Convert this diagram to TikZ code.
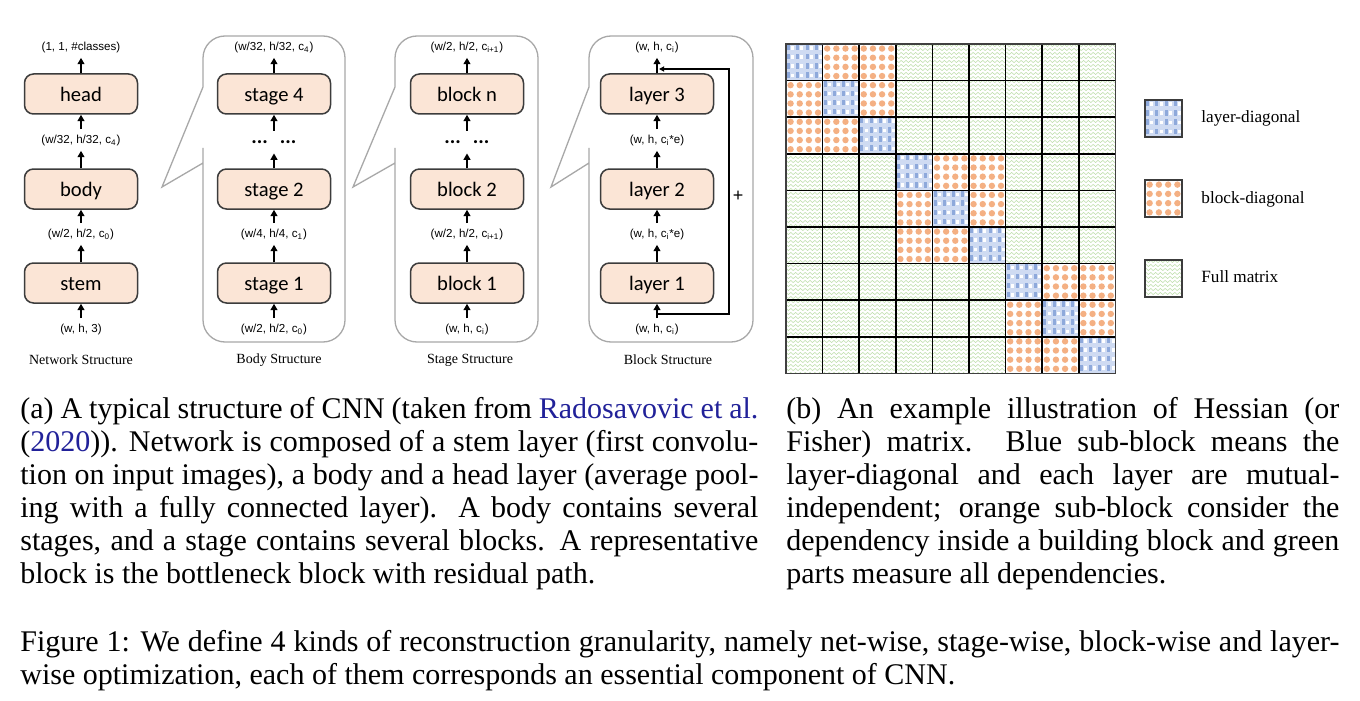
\documentclass[tikz,border=0pt]{standalone}
\usepackage{fontspec}
\setmainfont{Liberation Serif}
\newfontfamily\arialf{Liberation Sans}
\newfontfamily\calibf{Carlito}
\usetikzlibrary{arrows.meta,decorations.pathmorphing}
\definecolor{boxfill}{HTML}{FBE5D6}
\definecolor{boxdraw}{HTML}{3C3C3C}
\definecolor{panelc}{HTML}{A8A8A8}
\definecolor{citec}{rgb}{0.13,0.13,0.6}
\definecolor{zigc}{HTML}{BFDFAD}
\definecolor{odot}{HTML}{F4B083}
\definecolor{bluebg}{HTML}{CFDBF2}
\definecolor{bluedk}{HTML}{8EA9DB}
\newcommand\mybluecell[3]{%
  \fill[bluebg] (#1,#2) rectangle ++(#3,#3);
  \foreach \ii in {0,...,3}{\foreach \jj in {0,...,3}{
    \fill[bluedk] (#1+\ii*#3/4+1.2,#2+\jj*#3/4+0.8) rectangle ++(3,5.5);
    \fill[white] (#1+\ii*#3/4+5.3,#2+\jj*#3/4+2.2) rectangle ++(3,3.5);
  }}}
\newcommand\myorangecells[4]{% x y size count-per-side
  \fill[white] (#1,#2) rectangle ++(#3,#3);
  \foreach \ii in {1,...,#4}{\foreach \jj in {1,...,#4}{
    \fill[odot] (#1+\ii*#3/#4-0.5*#3/#4,#2+\jj*#3/#4-0.5*#3/#4) circle[radius=1.6pt];
  }}}
\begin{document}
\begin{tikzpicture}[x=0.5pt,y=-0.5pt,
  blk/.style={draw=boxdraw, fill=boxfill, line width=0.75pt, rounded corners=4.5pt,
    minimum width=56.5pt, minimum height=20pt, inner sep=0pt, text height=8pt, text depth=0.3pt,
    font=\calibf\fontsize{10.3}{12}\selectfont},
  dim/.style={font=\arialf\fontsize{5.8}{7}\selectfont, inner sep=1pt},
  dots/.style={font=\calibf\bfseries\fontsize{10.3}{12}\selectfont, inner sep=0pt, minimum height=8pt},
  upin/.style={-{Triangle[width=3.4pt,length=3.2pt]}, line width=1.2pt, shorten <=1.5pt},
  upout/.style={-{Triangle[width=3.4pt,length=3.2pt]}, line width=1.2pt, shorten >=1.5pt},
  panel/.style={draw=panelc, line width=0.65pt},
  sub/.style={font=\fontsize{7}{8}\selectfont, inner sep=0pt},
  leg/.style={font=\fontsize{8.6}{10}\selectfont, inner sep=0pt, anchor=west},
  gridl/.style={line width=0.75pt, black},
  zz/.style={draw=zigc, line width=0.28pt, decorate, decoration={zigzag, segment length=2.4pt, amplitude=0.55pt}},
  capt/.style={anchor=base west, inner sep=0pt}
]
\useasboundingbox[fill=white] (0,0) rectangle (1360,701);

% ---------- panels (callouts) ----------
\draw[panel] (203,163) -- (162,187) -- (203,87) -- (203,80) [rounded corners=11pt] -- (203,36) -- (345,36) -- (345,342) -- (203,342) -- (203,170) [sharp corners] -- cycle;
\draw[panel] (395,163) -- (353,187) -- (395,87) -- (395,80) [rounded corners=11pt] -- (395,36) -- (538,36) -- (538,342) -- (395,342) -- (395,170) [sharp corners] -- cycle;
\draw[panel] (589,163) -- (551,187) -- (589,87) -- (589,80) [rounded corners=11pt] -- (589,36) -- (753,36) -- (753,342) -- (589,342) -- (589,170) [sharp corners] -- cycle;

% ---------- network structure ----------
\node[blk] (head) at (81,94) {head};
\node[blk] (body) at (81,189) {body};
\node[blk] (stem) at (81,283) {stem};
\node[dim] (n0) at (81,329) {(w, h, 3)};
\node[dim] (n1) at (81,234) {(w/2, h/2, c\textsubscript{0})};
\node[dim] (n2) at (81,140) {(w/32, h/32, c\textsubscript{4})};
\node[dim] (n3) at (81,47) {(1, 1, \#classes)};
\draw[upin] (n0) -- (stem);
\draw[upout] (stem) -- (n1);
\draw[upin] (n1) -- (body);
\draw[upout] (body) -- (n2);
\draw[upin] (n2) -- (head);
\draw[upout] (head) -- (n3);

% ---------- body structure ----------
\node[blk] (s4) at (274,94) {stage 4};
\node[blk] (s2) at (274,189) {stage 2};
\node[blk] (s1) at (274,283) {stage 1};
\node[dim] (b0) at (274,329) {(w/2, h/2, c\textsubscript{0})};
\node[dim] (b1) at (274,234) {(w/4, h/4, c\textsubscript{1})};
\node[dots] (bd) at (274,142) {...\hspace{6pt}...};
\node[dim] (b3) at (274,47) {(w/32, h/32, c\textsubscript{4})};
\draw[upin] (b0) -- (s1);
\draw[upout] (s1) -- (b1);
\draw[upin] (b1) -- (s2);
\draw[upout] (s2) -- (bd);
\draw[upin] (bd) -- (s4);
\draw[upout] (s4) -- (b3);

% ---------- stage structure ----------
\node[blk] (kn) at (467,94) {block n};
\node[blk] (k2) at (467,189) {block 2};
\node[blk] (k1) at (467,283) {block 1};
\node[dim] (t0) at (467,329) {(w, h, c\textsubscript{i})};
\node[dim] (t1) at (467,234) {(w/2, h/2, c\textsubscript{i+1})};
\node[dots] (td) at (467,142) {...\hspace{6pt}...};
\node[dim] (t3) at (467,47) {(w/2, h/2, c\textsubscript{i+1})};
\draw[upin] (t0) -- (k1);
\draw[upout] (k1) -- (t1);
\draw[upin] (t1) -- (k2);
\draw[upout] (k2) -- (td);
\draw[upin] (td) -- (kn);
\draw[upout] (kn) -- (t3);

% ---------- block structure ----------
\node[blk] (l3) at (657,94) {layer 3};
\node[blk] (l2) at (657,189) {layer 2};
\node[blk] (l1) at (657,283) {layer 1};
\node[dim] (r0) at (657,329) {(w, h, c\textsubscript{i})};
\node[dim] (r1) at (657,234) {(w, h, c\textsubscript{i}*e)};
\node[dim] (r2) at (657,140) {(w, h, c\textsubscript{i}*e)};
\node[dim] (r3) at (657,47) {(w, h, c\textsubscript{i})};
\draw[upin] (r0) -- (l1);
\draw[upout] (l1) -- (r1);
\draw[upin] (r1) -- (l2);
\draw[upout] (l2) -- (r2);
\draw[upin] (r2) -- (l3);
\draw[upout] (l3) -- (r3);
\coordinate (rs) at (657,314);
\coordinate (rc1) at (729,314);
\coordinate (rc2) at (729,69);
\coordinate (re) at (659,69);
\draw[line width=0.6pt, -{Triangle[width=2.6pt,length=2.6pt]}] (rs) -- (rc1) -- (rc2) -- (re);
\node[font=\arialf\fontsize{9}{10}\selectfont, inner sep=0pt] (plus) at (738,196) {+};

% ---------- sub labels ----------
\node[sub] (ln) at (81,360) {Network Structure};
\node[sub] (lb) at (279,360) {Body Structure};
\node[sub] (ls) at (470,360) {Stage Structure};
\node[sub] (lk) at (668,360) {Block Structure};

% ---------- matrix ----------
\begin{scope}
  \clip (786,44) rectangle (1115.4,373.4);
  \foreach \k in {0,...,82}{
    \draw[zz] (780,45.5+\k*4) -- (1120,45.5+\k*4);
  }
\end{scope}
\foreach \b in {0,1,2}{
  \pgfmathsetmacro{\bx}{786+\b*109.8}
  \pgfmathsetmacro{\by}{44+\b*109.8}
  \myorangecells{\bx}{\by}{109.8}{12}
}
\foreach \k in {0,...,8}{
  \pgfmathsetmacro{\cx}{786+\k*36.6}
  \pgfmathsetmacro{\cy}{44+\k*36.6}
  \mybluecell{\cx}{\cy}{36.6}
}
\foreach \i in {0,...,9}{
  \draw[gridl] (786+\i*36.6,44) -- (786+\i*36.6,373.4);
  \draw[gridl] (786,44+\i*36.6) -- (1115.4,44+\i*36.6);
}
\draw[line width=0.9pt, draw=black!75] (786,44) rectangle (1115.4,373.4);

% ---------- legend ----------
\mybluecell{1145}{100}{37}
\draw[line width=0.75pt, draw=boxdraw] (1145,100) rectangle (1182,137);
\myorangecells{1145}{180}{37}{4}
\draw[line width=0.75pt, draw=boxdraw] (1145,180) rectangle (1182,217);
\begin{scope}
  \clip (1145,260) rectangle (1182,297);
  \foreach \k in {0,...,9}{
    \draw[zz] (1140,261.5+\k*4) -- (1190,261.5+\k*4);
  }
\end{scope}
\draw[line width=0.75pt, draw=boxdraw] (1145,260) rectangle (1182,297);
\node[leg] (g1) at (1201,118) {layer-diagonal};
\node[leg] (g2) at (1201,199) {block-diagonal};
\node[leg] (g3) at (1201,277) {Full matrix};

% ---------- captions ----------
\node[capt] (capa) at (20,418) {\parbox[t]{369pt}{\fontsize{15}{16.5}\selectfont
(a) A typical structure of CNN (taken from \textcolor{citec}{Radosavovic et al.}\linebreak
(\textcolor{citec}{2020})). Network is composed of a stem layer (first convolu-\linebreak
tion on input images), a body and a head layer (average pool-\linebreak
ing with a fully connected layer). A body contains several\linebreak
stages, and a stage contains several blocks. A representative\linebreak
block is the bottleneck block with residual path.}};
\node[capt] (capb) at (786,418) {\parbox[t]{276.5pt}{\fontsize{15}{16.5}\selectfont
(b) An example illustration of Hessian (or\linebreak
Fisher) matrix. Blue sub-block means the\linebreak
layer-diagonal and each layer are mutual-\linebreak
independent; orange sub-block consider the\linebreak
dependency inside a building block and green\linebreak
parts measure all dependencies.}};
\node[capt] (capf) at (20,651) {\parbox[t]{659.5pt}{\fontsize{15}{16.5}\selectfont
Figure 1: We define 4 kinds of reconstruction granularity, namely net-wise, stage-wise, block-wise and layer-\linebreak
wise optimization, each of them corresponds an essential component of CNN.}};
\end{tikzpicture}
\end{document}
